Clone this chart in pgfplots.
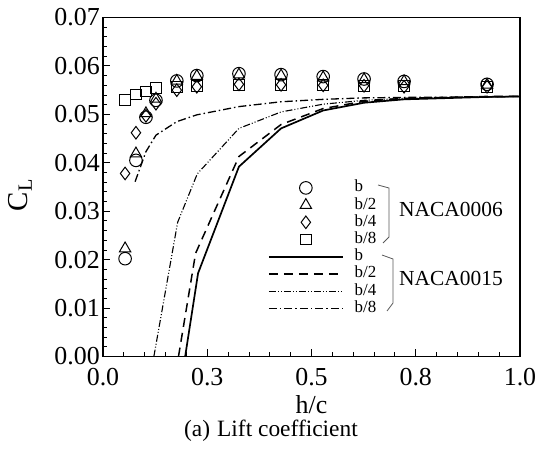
\documentclass[border=0pt]{standalone}
\usepackage{fontspec}
\setmainfont{Liberation Serif}
\usepackage{pgfplots}
\pgfplotsset{compat=1.18}
\begin{document}
\begin{tikzpicture}
\useasboundingbox (0,0) rectangle (535bp,449bp);
\begin{axis}[
  scale only axis, width=417bp, height=339bp,
  at={(103bp,92.5bp)}, anchor=south west,
  xmin=0, xmax=1, ymin=0, ymax=0.07,
  scaled x ticks=false, scaled y ticks=false,
  xtick={0,0.25,0.5,0.75,1}, xticklabels={0.0,0.3,0.5,0.8,1.0},
  ytick={0,0.01,0.02,0.03,0.04,0.05,0.06,0.07},
  yticklabels={0.00,0.01,0.02,0.03,0.04,0.05,0.06,0.07},
  minor x tick num=4, minor y tick num=4,
  tick pos=left, tick align=inside,
  major tick length=7bp, minor tick length=4bp,
  axis line style={line width=1.1bp},
  tick style={line width=0.9bp, black},
  /pgf/number format/assume math mode=true,
  ticklabel style={font=\fontsize{26}{26}\selectfont},
  yticklabel style={inner sep=3bp},
  xticklabel style={inner sep=0pt, yshift=-12bp},
  xlabel={h/c}, ylabel={C\textsubscript{L}},
  xlabel style={font=\fontsize{26}{26}\selectfont, at={(axis description cs:0.5,-0.143)}, anchor=center},
  ylabel style={font=\fontsize{29}{29}\selectfont, at={(axis description cs:-0.199,0.476)}, anchor=center},
  legend image code/.code={\draw[mark repeat=2,mark phase=2,#1] plot coordinates {(0bp,0bp)(37bp,0bp)(74bp,0bp)};},
  legend style={at={(0.3957,0.518)}, anchor=north west, draw=none, fill=none,
    inner sep=0pt, outer sep=0pt, row sep=3.2bp, column sep=11bp,
    font=\fontsize{17}{17}\selectfont,
    nodes={inner sep=0pt, text height=11bp, text depth=3bp}},
  legend cell align=left,
]
% NACA0006 markers
\addplot[only marks, mark=o, mark size=6.3bp, mark options={line width=1bp, black}] coordinates {
(0.053,0.0202)(0.079,0.0405)(0.103,0.0494)(0.127,0.0529)(0.177,0.0569)(0.225,0.0580)
(0.326,0.0584)(0.427,0.0582)(0.528,0.0578)(0.626,0.0573)(0.722,0.0568)(0.921,0.0562)};
\addlegendentry{b}
\addplot[only marks, mark=triangle, mark size=6.5bp, mark options={line width=1bp, black}] coordinates {
(0.053,0.0223)(0.079,0.0419)(0.103,0.0502)(0.127,0.0532)(0.177,0.0569)(0.225,0.0579)
(0.326,0.0582)(0.427,0.0580)(0.528,0.0576)(0.626,0.0572)(0.722,0.0568)(0.921,0.0561)};
\addlegendentry{b/2}
\addplot[only marks, mark=diamond, mark size=6.3bp, mark options={line width=1bp, black}] coordinates {
(0.053,0.0378)(0.079,0.0462)(0.103,0.0497)(0.127,0.0522)(0.177,0.0550)(0.225,0.0557)
(0.326,0.0562)(0.427,0.0561)(0.528,0.0560)(0.626,0.0559)(0.722,0.0557)(0.921,0.0557)};
\addlegendentry{b/4}
\addplot[only marks, mark=square, mark size=5.3bp, mark options={line width=1bp, black}] coordinates {
(0.053,0.0530)(0.079,0.0541)(0.103,0.0547)(0.127,0.0554)(0.177,0.0556)(0.225,0.0558)
(0.326,0.0561)(0.427,0.0561)(0.528,0.0560)(0.626,0.0559)(0.722,0.0558)(0.921,0.0557)};
\addlegendentry{b/8}
% NACA0015 lines
\addplot[black, line width=1.7bp] coordinates {
(0.197,0)(0.228,0.0172)(0.326,0.0392)(0.427,0.0471)(0.528,0.0508)(0.626,0.0524)(0.722,0.0531)(0.921,0.0536)(1,0.0537)};
\addlegendentry{b}
\addplot[black, line width=1.5bp, dash pattern=on 9bp off 6bp] coordinates {
(0.181,0)(0.222,0.0213)(0.326,0.0413)(0.427,0.0479)(0.528,0.0512)(0.626,0.0527)(0.722,0.0533)(0.921,0.0537)(1,0.0537)};
\addlegendentry{b/2}
\addplot[black, line width=1.1bp, dash pattern=on 7bp off 2bp on 1bp off 2bp on 1bp off 2bp] coordinates {
(0.122,0)(0.179,0.0277)(0.226,0.0377)(0.326,0.0471)(0.427,0.0505)(0.528,0.0521)(0.626,0.0529)(0.722,0.0533)(0.921,0.0536)(1,0.0537)};
\addlegendentry{b/4}
\addplot[black, line width=1.3bp, dash pattern=on 8bp off 3bp on 1.5bp off 3bp] coordinates {
(0.077,0.0361)(0.103,0.0423)(0.127,0.0457)(0.177,0.0485)(0.225,0.0499)(0.326,0.0516)(0.427,0.0526)(0.528,0.0531)(0.626,0.0534)(0.722,0.0535)(0.921,0.0536)(1,0.0537)};
\addlegendentry{b/8}
\end{axis}
% braces and group labels
\draw[gray!70!black, line width=0.8bp] (378bp,264bp) -- (389bp,261bp) -- (389bp,212bp) -- (383bp,206bp);
\draw[gray!70!black, line width=0.8bp] (382bp,194bp) -- (393bp,190bp) -- (393bp,146bp) -- (387bp,138bp);
\node[anchor=west, inner sep=0pt, font=\fontsize{21.5}{21.5}\selectfont] at (399bp,240bp) {NACA0006};
\node[anchor=west, inner sep=0pt, font=\fontsize{21.5}{21.5}\selectfont] at (399bp,171bp) {NACA0015};
\node[font=\fontsize{23.5}{23.5}\selectfont, inner sep=0pt] at (271bp,18bp) {(a)\hspace{7bp}Lift coefficient};
\end{tikzpicture}
\end{document}
